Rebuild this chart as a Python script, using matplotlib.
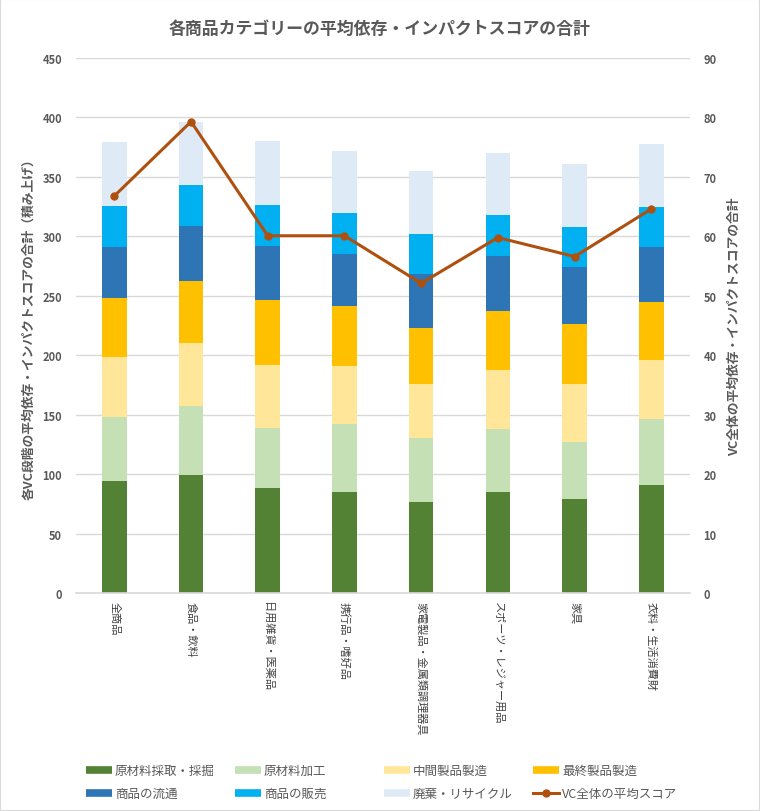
import matplotlib
matplotlib.use("Agg")
import matplotlib.pyplot as plt
import numpy as np
from matplotlib.patches import Rectangle
from matplotlib.lines import Line2D

plt.rcParams['font.family'] = ['Noto Sans CJK JP', 'DejaVu Sans']

categories = ["全商品", "食品・飲料", "日用雑貨・医薬品", "携行品・嗜好品", "家電製品・金属類調理器具",
              "スポーツ・レジャー用品", "家具", "衣料・生活消費財"]

series_names = ["原材料採取・採掘", "原材料加工", "中間製品製造", "最終製品製造",
                "商品の流通", "商品の販売", "廃棄・リサイクル"]
raw_extraction = [93.9, 99.2, 88.6, 85.2, 76.3, 85.2, 79.1, 90.8]
raw_processing = [54.4, 58.3, 50.2, 56.9, 53.8, 52.5, 48.2, 55.5]
intermediate = [49.9, 52.8, 53.0, 49.1, 45.7, 49.9, 48.5, 49.4]
final_mfg = [49.9, 52.4, 54.4, 49.9, 47.3, 49.8, 50.4, 48.8]
distribution = [42.9, 46.3, 45.9, 44.0, 45.2, 46.0, 47.7, 46.2]
retail = [34.2, 34.1, 34.2, 34.2, 33.9, 34.2, 33.9, 33.7]
disposal = [53.8, 52.8, 53.9, 52.7, 52.7, 52.5, 52.7, 53.2]
vc_average = [66.8, 79.3, 60.1, 60.1, 52.1, 59.8, 56.6, 64.6]
line_name = "VC全体の平均スコア"

colors = ["#548235", "#C5E0B4", "#FFE699", "#FFC000", "#2E75B6", "#00B0F0", "#DEEBF7"]
line_color = "#B0500F"
text_color = '#595959'

series = [raw_extraction, raw_processing, intermediate, final_mfg, distribution, retail, disposal]

W, H = 760, 812
fig = plt.figure(figsize=(W / 100, H / 100), dpi=100)
ax = fig.add_axes([0.1, 0.2685, 0.8074, 0.6588])
x = np.arange(len(categories))
bottom = np.zeros(len(categories))
for vals, c, name in zip(series, colors, series_names):
    ax.bar(x, vals, 0.32, bottom=bottom, color=c, label=name, zorder=2)
    bottom += np.array(vals)

ax.set_xlim(-0.5, len(categories) - 0.5)
ax.set_ylim(0, 450)
ax.set_yticks(np.arange(0, 451, 50))
ax.grid(axis='y', color='#D9D9D9', linewidth=1, zorder=0)
for s in ['top', 'left', 'right']:
    ax.spines[s].set_visible(False)
ax.spines['bottom'].set_color('#D9D9D9')
ax.spines['bottom'].set_linewidth(1.2)
ax.tick_params(axis='both', length=0, colors=text_color, labelsize=8)
ax.set_xticks(x)
ax.set_xticklabels(categories, rotation=270, va='top', ha='center', fontsize=8, color='#404040')
for t in ax.get_yticklabels():
    t.set_fontweight('bold')
ax.tick_params(axis='y', pad=10)
ax.tick_params(axis='x', pad=6)
ax.set_ylabel("各VC段階の平均依存・インパクトスコアの合計（積み上げ）", fontsize=9.2,
              fontweight='bold', color=text_color, labelpad=5)

ax2 = ax.twinx()
ax2.plot(x, vc_average, color=line_color, linewidth=2.2, marker='o', markersize=5,
         zorder=5)
ax2.set_ylim(0, 90)
ax2.set_yticks(np.arange(0, 91, 10))
for s in ['top', 'left', 'right', 'bottom']:
    ax2.spines[s].set_visible(False)
ax2.tick_params(axis='y', length=0, colors=text_color, labelsize=8, pad=10)
for t in ax2.get_yticklabels():
    t.set_fontweight('bold')
ax2.set_ylabel("VC全体の平均依存・インパクトスコアの合計", fontsize=9.2, fontweight='bold',
               color=text_color, rotation=90, labelpad=8)

fig.suptitle("各商品カテゴリーの平均依存・インパクトスコアの合計", y=0.975, fontsize=12.2,
             fontweight='bold', color=text_color)

# Legend drawn manually, row-major, fixed column positions (pixels)
col_x = [86, 235, 384, 533]
row_y = [771, 794]
entries = list(zip(series_names, colors)) + [(line_name, None)]
for i, (name, c) in enumerate(entries):
    r, k = divmod(i, 4)
    x0 = col_x[k] / W
    x1 = (col_x[k] + 26) / W
    yy = 1 - row_y[r] / H
    if c is not None:
        fig.add_artist(Line2D([x0, x1], [yy, yy], color=c, linewidth=5.5,
                              transform=fig.transFigure, solid_capstyle='butt'))
    else:
        fig.add_artist(Line2D([x0, x1], [yy, yy], color=line_color, linewidth=2.2,
                              transform=fig.transFigure))
        fig.add_artist(Line2D([(x0 + x1) / 2], [yy], color=line_color, marker='o',
                              markersize=5, transform=fig.transFigure))
    fig.text((col_x[k] + 29) / W, yy, name, fontsize=9, color=text_color,
             va='center', ha='left')

fig.patches.append(Rectangle((0, 0), 1, 1, transform=fig.transFigure, fill=False,
                             edgecolor='#D9D9D9', linewidth=1.5))

fig.savefig("out.png", dpi=100)
